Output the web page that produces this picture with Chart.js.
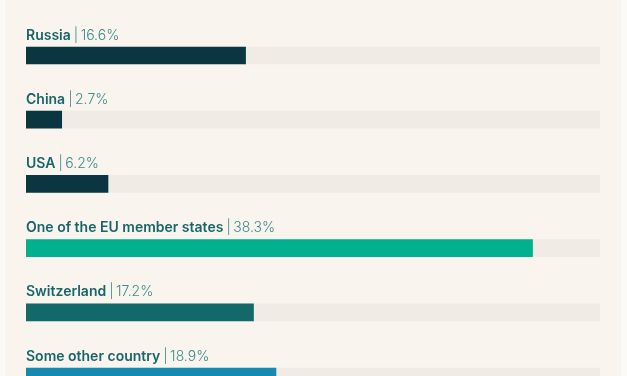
<!DOCTYPE html>
<html>
<head>
<meta charset="utf-8">
<script src="https://cdn.jsdelivr.net/npm/chart.js@4/dist/chart.umd.min.js"></script>
<style>
  html, body { margin: 0; padding: 0; overflow: hidden; background: #fcfaf7; width: 627px; height: 376px; }
  #panel { position: absolute; left: 5px; top: 0; width: 616px; height: 420px; background: #f9f4ee; }
  #wrap { position: absolute; left: 0; top: 0; width: 627px; height: 420px; }
</style>
</head>
<body>
<div id="panel"></div>
<div id="wrap"><canvas id="c" width="627" height="420"></canvas></div>
<script>
const categories = ["Russia", "China", "USA", "One of the EU member states", "Switzerland", "Some other country"];
const values = [16.6, 2.7, 6.2, 38.3, 17.2, 18.9];
const valueLabels = ["16.6%", "2.7%", "6.2%", "38.3%", "17.2%", "18.9%"];
const barColors = ["#0b3541", "#0b3541", "#0b3541", "#00b08f", "#13696a", "#1689b0"];
const scaleMax = 43.4;
const trackValues = categories.map(() => scaleMax);

const labelPlugin = {
  id: 'rowLabels',
  afterDatasetsDraw(chart) {
    const ctx = chart.ctx;
    const meta = chart.getDatasetMeta(0);
    const left = chart.chartArea.left;
    ctx.save();
    ctx.textBaseline = 'alphabetic';
    ctx.textAlign = 'left';
    meta.data.forEach((bar, i) => {
      const y = bar.y - 8.5 - 7.5;
      ctx.font = '600 14px Inter, "Noto Sans", sans-serif';
      ctx.fillStyle = '#18666a';
      const name = categories[i];
      ctx.fillText(name, left, y);
      let x = left + ctx.measureText(name).width + 3;
      ctx.font = '300 14px Inter, "Noto Sans", sans-serif';
      ctx.fillStyle = '#3a8c8d';
      ctx.fillText('|', x, y);
      x += ctx.measureText('|').width + 2.5;
      ctx.fillText(valueLabels[i], x, y);
    });
    ctx.restore();
  }
};

new Chart(document.getElementById('c'), {
  type: 'bar',
  data: {
    labels: categories,
    datasets: [
      { data: values, backgroundColor: barColors, barThickness: 17, grouped: false, borderWidth: 0 },
      { data: trackValues, backgroundColor: '#f0ebe5', barThickness: 17, grouped: false, borderWidth: 0 }
    ]
  },
  options: {
    indexAxis: 'y',
    responsive: false,
    animation: false,
    layout: { padding: { left: 26, right: 27, top: 23.4, bottom: 11.4 } },
    scales: {
      x: { display: false, min: 0, max: scaleMax },
      y: { display: false, offset: true }
    },
    plugins: { legend: { display: false }, tooltip: { enabled: false } }
  },
  plugins: [labelPlugin]
});
</script>
</body>
</html>
